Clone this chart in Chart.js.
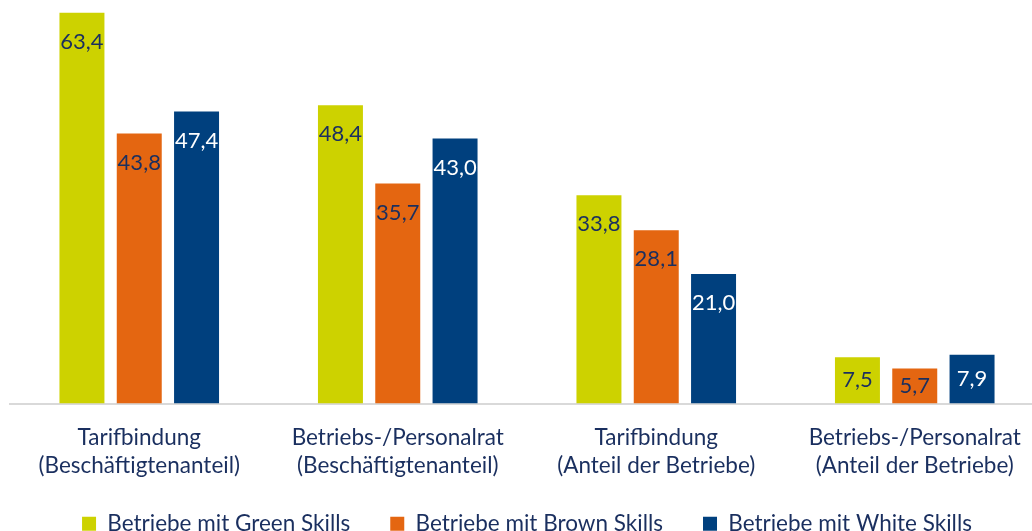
<!DOCTYPE html>
<html lang="de">
<head>
<meta charset="UTF-8">
<title>Green Skills</title>
<script src="https://cdn.jsdelivr.net/npm/chart.js@4.4.1/dist/chart.umd.min.js"></script>
<style>
  body { margin: 0; overflow: hidden; background: #fff; }
  #wrap { width: 1054px; height: 545px; }
</style>
</head>
<body>
<div id="wrap"><canvas id="chart" width="1054" height="545"></canvas></div>
<script>
// categories (two lines each)
const categories = [
  ["Tarifbindung", "(Beschäftigtenanteil)"],
  ["Betriebs-/Personalrat", "(Beschäftigtenanteil)"],
  ["Tarifbindung", "(Anteil der Betriebe)"],
  ["Betriebs-/Personalrat", "(Anteil der Betriebe)"]
];
const greenSkills = [63.4, 48.4, 33.8, 7.5];
const brownSkills = [43.8, 35.7, 28.1, 5.7];
const whiteSkills = [47.4, 43.0, 21.0, 7.9];

const navy = "#1a2f5f";
const font = "Lato, 'Open Sans', sans-serif";

// draws the value inside the top of each bar
const valueLabels = {
  id: "valueLabels",
  afterDatasetsDraw(chart) {
    const ctx = chart.ctx;
    ctx.save();
    ctx.font = "22px " + font;
    ctx.textAlign = "center";
    ctx.textBaseline = "middle";
    chart.data.datasets.forEach((ds, i) => {
      chart.getDatasetMeta(i).data.forEach((bar, j) => {
        let y = Math.min(bar.y + 29, (bar.y + bar.base) / 2);
        ctx.fillStyle = ds.labelColor;
        ctx.fillText(ds.data[j].toFixed(1).replace(".", ","), bar.x, y);
      });
    });
    ctx.restore();
  }
};

new Chart(document.getElementById("chart"), {
  type: "bar",
  data: {
    labels: categories,
    datasets: [
      { label: "Betriebe mit Green Skills", data: greenSkills, backgroundColor: "#cdd200", labelColor: navy },
      { label: "Betriebe mit Brown Skills", data: brownSkills, backgroundColor: "#e46611", labelColor: navy },
      { label: "Betriebe mit White Skills", data: whiteSkills, backgroundColor: "#00407e", labelColor: "#ffffff" }
    ]
  },
  options: {
    responsive: false,
    animation: false,
    categoryPercentage: 0.665,
    barPercentage: 0.785,
    layout: { padding: { left: 10, right: 10, top: 3, bottom: 0 } },
    scales: {
      x: {
        grid: { display: false, drawTicks: false },
        border: { color: "#d9d9d9", width: 2 },
        ticks: { color: navy, font: { family: font, size: 22.5, lineHeight: 1.25 }, padding: 20, maxRotation: 0 },
        afterFit(scale) {
          scale.height = 69;
          // labels run a bit into the legend's empty top padding, don't clip them
          scale._computeLabelArea = () => undefined;
        }
      },
      y: {
        display: false,
        min: 0,
        max: 65
      }
    },
    plugins: {
      legend: {
        position: "bottom",
        labels: {
          color: navy,
          font: { family: font, size: 22.5 },
          boxWidth: 14,
          boxHeight: 14,
          padding: 40
        }
      },
      tooltip: { enabled: false }
    }
  },
  plugins: [valueLabels]
});
</script>
</body>
</html>
